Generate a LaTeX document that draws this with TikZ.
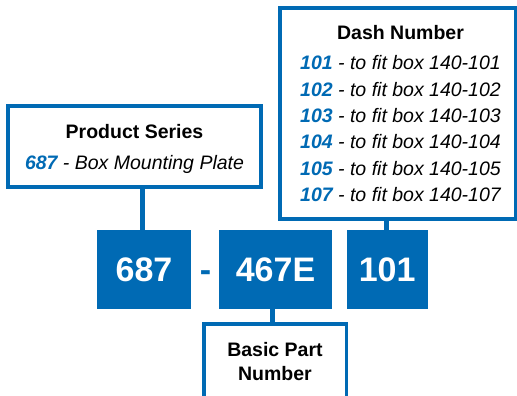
\documentclass[tikz,border=0pt]{standalone}
\usepackage{fontspec}
\setmainfont{Liberation Sans}
\definecolor{pblue}{RGB}{0,106,180}
\newcommand\mysize{\fontsize{19.5}{23}\selectfont}
\begin{document}
\begin{tikzpicture}[x=1pt,y=-1pt,
  frame/.style={draw=pblue, line width=3.8pt, fill=white, inner sep=0pt},
  block/.style={fill=pblue, text=white, font=\fontsize{34}{40}\selectfont\bfseries, inner sep=0pt, minimum height=79pt},
  conn/.style={draw=pblue, line width=4.6pt},
  lbl/.style={font=\mysize, anchor=base, inner sep=0pt},
  boldlbl/.style={font=\mysize\bfseries, anchor=base, inner sep=0pt}]
\useasboundingbox (0,0) rectangle (517,396);
\clip (0,0) rectangle (517,396);
% blocks and frames
\node[block, minimum width=93.4pt] (b1) at (144,269.5) {687};
\node[block, minimum width=112.4pt] (b2) at (275.5,269.5) {467E};
\node[block, minimum width=81pt] (b3) at (387.2,269.5) {101};
\node[frame, minimum width=253.4pt, minimum height=80.6pt] (ps) at (134.3,146.5) {};
\node[frame, minimum width=236pt, minimum height=211pt] (dn) at (398,113.5) {};
\node[frame, minimum width=142.8pt, minimum height=100pt, anchor=north] (bp) at (275,322) {};
% connectors
\draw[conn] ([xshift=-1.5pt]b1.north |- ps.south) -- ([xshift=-1.5pt]b1.north);
\draw[conn] ([xshift=-1pt]b3.north |- dn.south) -- ([xshift=-1pt]b3.north);
\draw[conn] ([xshift=-3pt]b2.south) -- ([xshift=-3pt]b2.south |- bp.north);
\node[text=pblue, font=\fontsize{34}{40}\selectfont\bfseries, inner sep=0pt, anchor=base] (sep) at (205.5,281.5) {-};
% texts
\node[boldlbl] (pst) at (134.5,139) {Product Series};
\node[lbl] (psl) at (134.5,169) {\textcolor{pblue}{\bfseries\itshape 687}\itshape{} - Box Mounting Plate};
\node[boldlbl] (dnt) at (400.5,40) {Dash Number};
\foreach \n/\y in {101/70,102/96,103/122,104/148,105/175,107/201}{
  \node[lbl] (d\n) at (400.5,\y) {\textcolor{pblue}{\bfseries\itshape \n}\itshape{} - to fit box 140-\n};
}
\node[boldlbl] (bp1) at (275,356) {Basic Part};
\node[boldlbl] (bp2) at (275,380) {Number};
\end{tikzpicture}
\end{document}
